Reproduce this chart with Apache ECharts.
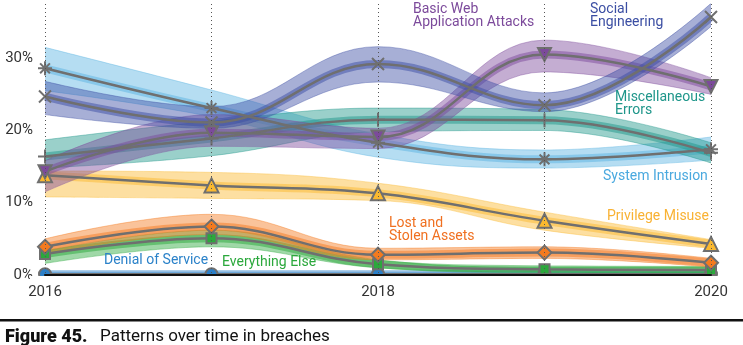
<!DOCTYPE html>
<html>
<head>
<meta charset="utf-8">
<script src="https://cdn.jsdelivr.net/npm/echarts@6/dist/echarts.min.js"></script>
<style>
html,body{margin:0;padding:0;background:#fff;}
#chart{width:743px;height:345px;}
</style>
</head>
<body>
<div id="chart"></div>
<script>
// ---- data ----
const years = ['2016', '2017', '2018', '2019', '2020'];
const xTickLabels = ['2016', '2018', '2020'];
const yTickLabels = ['0%', '10%', '20%', '30%'];

// central estimates (%)
const socialEngineering = [24.7, 21.1, 29.2, 23.5, 35.7];
const systemIntrusion   = [28.6, 23.1, 18.3, 16.0, 17.4];
const basicWebApp       = [14.3, 19.7, 19.1, 30.5, 26.1];
const miscErrors        = [16.4, 18.9, 21.5, 21.4, 16.9];
const privilegeMisuse   = [13.8, 12.4, 11.3, 7.5, 4.3];
const lostStolen        = [3.9, 6.7, 2.8, 3.1, 1.7];
const everythingElse    = [2.9, 5.1, 1.5, 0.8, 0.7];
const denialOfService   = [0.1, 0.1, 0.1, 0.1, 0.1];

// uncertainty bundle extents (%)
const socialEngineeringLow  = [22.2, 20.3, 26.7, 22.6, 34.4];
const socialEngineeringHigh = [26.8, 23.3, 31.6, 25.2, 37.6];
const systemIntrusionLow    = [25.5, 21.9, 16.3, 14.8, 15.9];
const systemIntrusionHigh   = [31.5, 25.6, 19.5, 17.3, 19.1];
const basicWebAppLow        = [11.5, 17.8, 17.5, 28.1, 25.0];
const basicWebAppHigh       = [15.8, 22.2, 20.3, 32.5, 27.3];
const miscErrorsLow         = [14.8, 16.5, 19.8, 20.0, 15.5];
const miscErrorsHigh        = [18.7, 21.3, 23.1, 22.9, 18.3];
const privilegeMisuseLow    = [10.8, 10.6, 10.3, 6.2, 3.7];
const privilegeMisuseHigh   = [14.4, 14.2, 12.7, 8.7, 4.9];
const lostStolenLow         = [3.0, 5.6, 2.1, 2.3, 1.1];
const lostStolenHigh        = [5.0, 8.4, 3.7, 3.9, 2.3];
const everythingElseLow     = [1.6, 3.9, 1.0, 0.4, 0.3];
const everythingElseHigh    = [3.3, 6.2, 2.1, 1.1, 1.1];
const denialOfServiceLow    = [0.0, 0.0, 0.0, 0.0, 0.0];
const denialOfServiceHigh   = [0.3, 0.3, 0.3, 0.3, 0.3];

const seriesNames = ['Denial of Service', 'Everything Else', 'Lost and Stolen Assets', 'Privilege Misuse',
  'System Intrusion', 'Miscellaneous Errors', 'Basic Web Application Attacks', 'Social Engineering'];
</script>
<script>
const GRAY = '#6f6f6f';
const FONT = 'Roboto, "Liberation Sans", sans-serif';

const groups = [
  {name: seriesNames[0], c: '#2b7fc8', mid: denialOfService, lo: denialOfServiceLow, hi: denialOfServiceHigh,
   symbol: 'circle', size: 12, fill: '#2b7fc8'},
  {name: seriesNames[1], c: '#2ba83c', mid: everythingElse, lo: everythingElseLow, hi: everythingElseHigh,
   symbol: 'rect', size: 10, fill: '#2ba83c'},
  {name: seriesNames[2], c: '#f47a1f', mid: lostStolen, lo: lostStolenLow, hi: lostStolenHigh,
   symbol: 'diamond', size: 14, fill: '#f47a1f'},
  {name: seriesNames[3], c: '#fbb92f', mid: privilegeMisuse, lo: privilegeMisuseLow, hi: privilegeMisuseHigh,
   symbol: 'triangle', size: 14, fill: '#fbb92f'},
  {name: seriesNames[4], c: '#5bb3e2', mid: systemIntrusion, lo: systemIntrusionLow, hi: systemIntrusionHigh,
   symbol: 'path://M5,0L5,10M0,5L10,5M1.5,1.5L8.5,8.5M8.5,1.5L1.5,8.5', size: 14, fill: GRAY},
  {name: seriesNames[5], c: '#1f968a', mid: miscErrors, lo: miscErrorsLow, hi: miscErrorsHigh,
   symbol: 'path://M5,0L5,10M0,5L10,5', size: 14, fill: GRAY},
  {name: seriesNames[6], c: '#7c4a9b', mid: basicWebApp, lo: basicWebAppLow, hi: basicWebAppHigh,
   symbol: 'path://M0,0L10,0L5,9Z', size: 13, fill: '#7c4a9b'},
  {name: seriesNames[7], c: '#3b4ea3', mid: socialEngineering, lo: socialEngineeringLow, hi: socialEngineeringHigh,
   symbol: 'path://M0,0L10,10M10,0L0,10', size: 12, fill: GRAY}
];

const SM = 0.4;
const series = [];
groups.forEach((g, i) => {
  const st = 'band' + i;
  series.push({
    type: 'line', stack: st, smooth: SM, symbol: 'none', silent: true, z: 2 + i,
    data: g.lo.slice(),
    lineStyle: {color: g.c, width: 0.8, opacity: 0.5}
  });
  series.push({
    type: 'line', stack: st, smooth: SM, symbol: 'none', silent: true, z: 2 + i,
    data: g.hi.map((h, k) => +(h - g.lo[k]).toFixed(3)),
    lineStyle: {color: g.c, width: 0.8, opacity: 0.5},
    areaStyle: {color: g.c, opacity: 0.45}
  });
  series.push({
    type: 'line', smooth: SM, symbol: 'none', silent: true, z: 2 + i,
    data: g.mid.slice(),
    lineStyle: {color: g.c, width: 8, opacity: 0.5}
  });
});
groups.forEach((g, i) => {
  series.push({
    name: g.name, type: 'line', smooth: SM, z: 20 + i,
    data: g.mid.slice(),
    symbol: g.symbol, symbolSize: g.size, showAllSymbol: true,
    lineStyle: {color: GRAY, width: 2.5},
    itemStyle: {color: g.fill, borderColor: GRAY, borderWidth: 2},
    emphasis: {disabled: true}
  });
});

const chart = echarts.init(document.getElementById('chart'), null, {renderer: 'canvas'});

function txt(text, x, y, color) {
  return {
    type: 'text', x: x, y: y, z: 100,
    style: {text: text, fill: color, font: '14px ' + FONT, lineHeight: 13, verticalAlign: 'top'}
  };
}

chart.setOption({
  animation: false,
  grid: {left: 45, right: 32, top: 4, bottom: 70, containLabel: false},
  xAxis: {
    type: 'category', data: years, boundaryGap: false, z: 50,
    axisLine: {show: true, onZero: false, lineStyle: {color: '#111', width: 2}},
    axisTick: {show: false},
    axisLabel: {
      interval: 0, color: '#333', fontSize: 15, fontFamily: FONT, margin: 10,
      formatter: v => (xTickLabels.indexOf(String(v)) >= 0 ? String(v) : '')
    },
    splitLine: {show: true, interval: 0, lineStyle: {color: '#555', type: [1, 3], width: 1}}
  },
  yAxis: {
    type: 'value', min: 0, max: 37.5, interval: 10,
    axisLine: {show: false}, axisTick: {show: false}, splitLine: {show: false},
    axisLabel: {
      color: '#333', fontSize: 15, fontFamily: FONT, margin: 12, showMaxLabel: false,
      formatter: v => yTickLabels[Math.round(v / 10)] || ''
    }
  },
  series: series,
  graphic: [
    {type: 'rect', shape: {x: 30, y: 276, width: 700, height: 7}, style: {fill: '#fff'}, z: 90},
    txt('Basic Web\nApplication Attacks', 413, 3, '#7c4a9b'),
    txt('Social\nEngineering', 590, 3, '#3b4ea3'),
    txt('Miscellaneous\nErrors', 615, 91, '#1f968a'),
    txt('System Intrusion', 603, 170, '#4aa9df'),
    txt('Privilege Misuse', 607, 210, '#f9b233'),
    txt('Lost and\nStolen Assets', 389, 217, '#f07020'),
    txt('Denial of Service', 104, 254, '#2b82c9'),
    txt('Everything Else', 222, 256, '#2ba83c'),
    {type: 'rect', shape: {x: 0, y: 319, width: 743, height: 2.5}, style: {fill: '#111'}, z: 100},
    {type: 'text', x: 5, y: 328, z: 100,
     style: {text: 'Figure 45.', fill: '#111', font: '900 18px ' + FONT, verticalAlign: 'top'}},
    {type: 'text', x: 100, y: 328, z: 100,
     style: {text: 'Patterns over time in breaches', fill: '#111', font: '17px ' + FONT, verticalAlign: 'top'}}
  ]
});
</script>
</body>
</html>
